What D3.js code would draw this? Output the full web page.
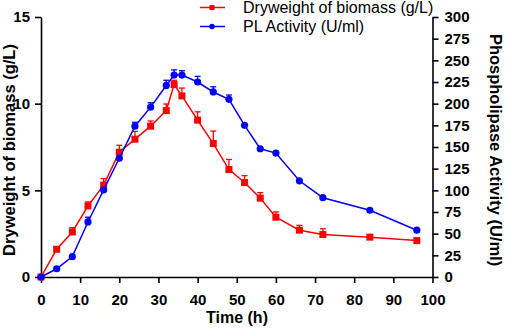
<!DOCTYPE html>
<html>
<head>
<meta charset="utf-8">
<script src="https://cdn.jsdelivr.net/npm/d3@7"></script>
<style>
  body { margin: 0; background: #fff; }
  svg { display: block; font-family: "Liberation Sans", Arial, sans-serif; }
</style>
</head>
<body>
<div id="container"></div>
<script>
// data
let timesBiomass = [0, 4, 8, 12, 16, 20, 24, 28, 32, 34, 36, 40, 44, 48, 52, 56, 60, 66, 72, 84, 96];
let biomass      = [0, 1.6, 2.6, 4.1, 5.3, 7.2, 7.95, 8.7, 9.6, 11.1, 10.45, 9.05, 7.7, 6.2, 5.45, 4.55, 3.45, 2.7, 2.45, 2.3, 2.1];
let biomassErr   = [0, 0.1, 0.25, 0.23, 0.38, 0.4, 0.45, 0.3, 0.38, 0.25, 0.45, 0.48, 0.72, 0.58, 0.4, 0.32, 0.3, 0.28, 0.33, 0.05, 0.05];

let timesPL = [0, 4, 8, 12, 16, 20, 24, 28, 32, 34, 36, 40, 44, 48, 52, 56, 60, 66, 72, 84, 96];
let plActivity = [0, 9.5, 23.5, 63.5, 100.5, 137, 174, 196, 221, 233, 233, 225, 213.5, 205, 175, 148, 143, 111, 91.5, 77, 54];
let plErr      = [0, 0.5, 1, 5.5, 3, 3, 4.5, 5, 6, 6, 5, 6.5, 6, 5, 4, 1.5, 1.5, 3, 1.5, 1.5, 1];

let xTicks = [0, 10, 20, 30, 40, 50, 60, 70, 80, 90, 100];
let leftTicks = [0, 5, 10, 15];
let rightTicks = [0, 25, 50, 75, 100, 125, 150, 175, 200, 225, 250, 275, 300];

let w = 505;
let h = 329;
let red = "#ff0000";
let blue = "#0000ff";

let viz = d3.select("#container")
  .append("svg")
    .attr("width", w)
    .attr("height", h);

let xScale = d3.scaleLinear().domain([0, 100]).range([41, 432.5]);
let yLeft = d3.scaleLinear().domain([0, 15]).range([277, 17]);
let yRight = d3.scaleLinear().domain([0, 300]).range([277, 17]);

// axes
function styleAxis(g) {
  g.selectAll("path").attr("stroke", "#000").attr("stroke-width", 1.6);
  g.selectAll("line").attr("stroke", "#000").attr("stroke-width", 1.6);
  g.selectAll("text")
    .attr("fill", "#000")
    .attr("font-size", "15px")
    .attr("font-weight", "bold")
    .attr("font-family", "'Liberation Sans', Arial, sans-serif");
}

let xAxisGroup = viz.append("g")
  .attr("transform", "translate(0," + 277 + ")")
  .call(d3.axisBottom(xScale).tickValues(xTicks).tickSize(6).tickSizeOuter(0).tickPadding(11));
styleAxis(xAxisGroup);

let yAxisGroup = viz.append("g")
  .attr("transform", "translate(41,0)")
  .call(d3.axisLeft(yLeft).tickValues(leftTicks).tickSize(6).tickSizeOuter(0).tickPadding(5));
styleAxis(yAxisGroup);

let y2AxisGroup = viz.append("g")
  .attr("transform", "translate(432.5,0)")
  .call(d3.axisRight(yRight).tickValues(rightTicks).tickSize(6).tickSizeOuter(0).tickPadding(6));
styleAxis(y2AxisGroup);

// axis titles
viz.append("text")
  .text("Time (h)")
  .attr("x", 237)
  .attr("y", 323)
  .attr("text-anchor", "middle")
  .attr("font-size", "16px")
  .attr("font-weight", "bold");

viz.append("text")
  .text("Dryweight of biomass (g/L)")
  .attr("transform", "translate(15,150) rotate(-90)")
  .attr("text-anchor", "middle")
  .attr("font-size", "16.5px")
  .attr("font-weight", "bold");

viz.append("text")
  .text("Phospholipase Activity (U/ml)")
  .attr("transform", "translate(489.5,150) rotate(90)")
  .attr("text-anchor", "middle")
  .attr("font-size", "16.5px")
  .attr("font-weight", "bold");

// series
let biomassData = timesBiomass.map(function(t, i){
  return {t: t, v: biomass[i], e: biomassErr[i]};
});
let plData = timesPL.map(function(t, i){
  return {t: t, v: plActivity[i], e: plErr[i]};
});

function drawSeries(data, yScale, color, shape) {
  let g = viz.append("g");
  let line = d3.line()
    .x(function(d){ return xScale(d.t); })
    .y(function(d){ return yScale(d.v); });

  // upper error bars only
  let bars = g.selectAll(".err").data(data).enter().append("g").attr("class", "err");
  bars.append("line")
    .attr("x1", function(d){ return xScale(d.t); })
    .attr("x2", function(d){ return xScale(d.t); })
    .attr("y1", function(d){ return yScale(d.v); })
    .attr("y2", function(d){ return yScale(d.v + d.e); })
    .attr("stroke", color)
    .attr("stroke-width", 1.3);
  bars.append("line")
    .attr("x1", function(d){ return xScale(d.t) - 3; })
    .attr("x2", function(d){ return xScale(d.t) + 3; })
    .attr("y1", function(d){ return yScale(d.v + d.e); })
    .attr("y2", function(d){ return yScale(d.v + d.e); })
    .attr("stroke", color)
    .attr("stroke-width", 1.3)
    .attr("opacity", function(d){ return (yScale(d.v) - yScale(d.v + d.e)) > 3.5 ? 1 : 0; });

  g.append("path")
    .datum(data)
    .attr("d", line)
    .attr("fill", "none")
    .attr("stroke", color)
    .attr("stroke-width", 1.5);

  if (shape == "square") {
    g.selectAll(".pt").data(data).enter().append("rect")
      .attr("x", function(d){ return xScale(d.t) - 3.5; })
      .attr("y", function(d){ return yScale(d.v) - 3.5; })
      .attr("width", 7)
      .attr("height", 7)
      .attr("fill", color);
  } else {
    g.selectAll(".pt").data(data).enter().append("circle")
      .attr("cx", function(d){ return xScale(d.t); })
      .attr("cy", function(d){ return yScale(d.v); })
      .attr("r", 3.6)
      .attr("fill", color);
  }
}

drawSeries(biomassData, yLeft, red, "square");
drawSeries(plData, yRight, blue, "circle");

// legend
let legend = viz.append("g");
let legendItems = [
  {label: "Dryweight of biomass (g/L)", color: red, shape: "square", y: 7.5},
  {label: "PL Activity (U/ml)", color: blue, shape: "circle", y: 26.5}
];
legendItems.forEach(function(item){
  legend.append("line")
    .attr("x1", 200).attr("x2", 225)
    .attr("y1", item.y).attr("y2", item.y)
    .attr("stroke", item.color).attr("stroke-width", 1.5);
  if (item.shape == "square") {
    legend.append("rect")
      .attr("x", 209.5).attr("y", item.y - 2.5)
      .attr("width", 5).attr("height", 5)
      .attr("fill", item.color);
  } else {
    legend.append("circle")
      .attr("cx", 212).attr("cy", item.y).attr("r", 2.7)
      .attr("fill", item.color);
  }
  legend.append("text")
    .text(item.label)
    .attr("x", 243)
    .attr("y", item.y + 5.5)
    .attr("font-size", "16px");
});
</script>
</body>
</html>
